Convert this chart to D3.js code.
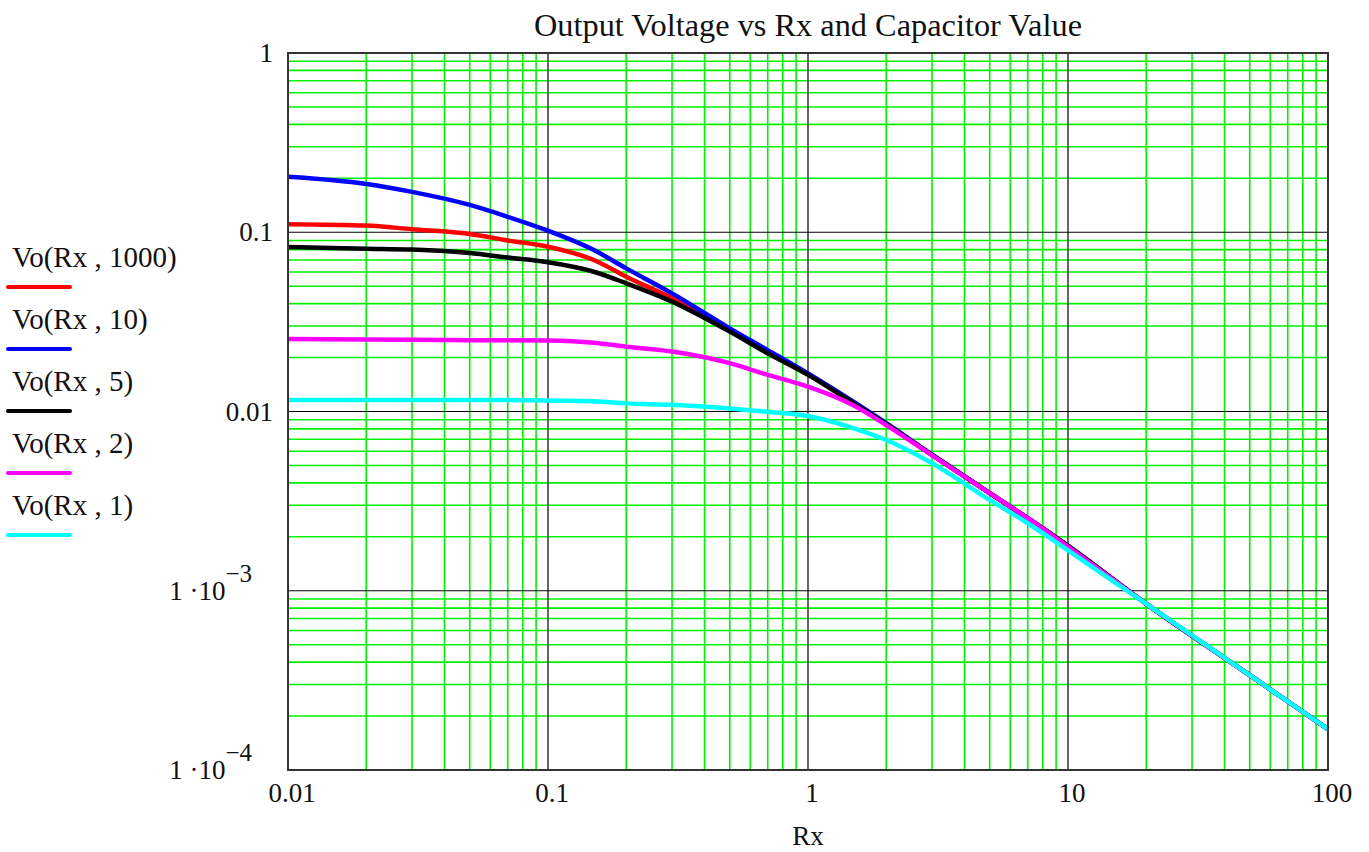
<!DOCTYPE html>
<html>
<head>
<meta charset="utf-8">
<title>Output Voltage vs Rx and Capacitor Value</title>
<script src="https://d3js.org/d3.v7.min.js"></script>
<style>
  body { margin: 0; background: #fff; }
  svg text { font-family: "Liberation Serif", "Times New Roman", serif; fill: #111; }
</style>
</head>
<body>
<svg id="chart" width="1369" height="852"></svg>
<script>
// Rx sample points (log axis)
var rx = [0.01, 0.02, 0.03, 0.05, 0.07, 0.1, 0.15, 0.2, 0.3, 0.5, 0.7, 1, 1.5, 2, 3, 5, 7, 10, 20, 50, 100];

// Vo(Rx, C)
var vo1000 = [0.111, 0.109, 0.104, 0.0978, 0.0900, 0.0830, 0.0700, 0.0565, 0.0428, 0.0283, 0.0213, 0.0161, 0.0111, 0.0085, 0.00572, 0.0035, 0.00254, 0.00178, 0.000845, 0.000338, 0.000169];
var vo10   = [0.204, 0.186, 0.168, 0.142, 0.122, 0.102, 0.0796, 0.0629, 0.0456, 0.0291, 0.0220, 0.0163, 0.0113, 0.0086, 0.00575, 0.0035, 0.00254, 0.00178, 0.000845, 0.000338, 0.000169];
var vo5    = [0.0828, 0.0810, 0.0800, 0.0765, 0.0722, 0.0680, 0.0602, 0.0519, 0.0410, 0.0279, 0.0211, 0.0160, 0.0111, 0.0085, 0.00572, 0.0035, 0.00254, 0.00178, 0.000845, 0.000338, 0.000169];
var vo2    = [0.0254, 0.0252, 0.0251, 0.0250, 0.0250, 0.0249, 0.0242, 0.0230, 0.0216, 0.0186, 0.0160, 0.01375, 0.0108, 0.0084, 0.00570, 0.0035, 0.00254, 0.00176, 0.000845, 0.000338, 0.000169];
var vo1    = [0.0116, 0.0116, 0.0116, 0.0116, 0.0116, 0.0115, 0.0114, 0.0111, 0.0109, 0.0104, 0.00997, 0.00944, 0.00806, 0.00693, 0.00514, 0.00321, 0.00238, 0.00168, 0.000845, 0.000338, 0.000169];

var seriesNames = ["Vo(Rx , 1000)", "Vo(Rx , 10)", "Vo(Rx , 5)", "Vo(Rx , 2)", "Vo(Rx , 1)"];
var seriesValues = [vo1000, vo10, vo5, vo2, vo1];
var seriesColors = ["#ff0000", "#0000ff", "#000000", "#ff00ff", "#00ffff"];

var xTicks = [0.01, 0.1, 1, 10, 100];
var xTickLabels = ["0.01", "0.1", "1", "10", "100"];
var yTicks = [1, 0.1, 0.01, 0.001, 0.0001];
var yTickLabels = ["1", "0.1", "0.01", "1 ·10|−3", "1 ·10|−4"];

var title = "Output Voltage vs Rx and Capacitor Value";
var xTitle = "Rx";

var svg = d3.select("#chart");

var x = d3.scaleLog().domain([0.01, 100]).range([288, 1328]);
var y = d3.scaleLog().domain([0.0001, 1]).range([770, 53]);

function isDecade(v) {
  return Math.abs(Math.log10(v) - Math.round(Math.log10(v))) < 1e-9;
}

// minor grid (green) then decade grid (black)
var xGrid = x.ticks().filter(function (d) { return d > 0.01 && d < 100; });
var yGrid = y.ticks().filter(function (d) { return d > 0.0001 && d < 1; });

var grid = svg.append("g");
grid.selectAll("line.xminor")
  .data(xGrid.filter(function (d) { return !isDecade(d); }))
  .enter().append("line")
  .attr("x1", function (d) { return x(d); }).attr("x2", function (d) { return x(d); })
  .attr("y1", y(1)).attr("y2", y(0.0001))
  .attr("stroke", "#00f000").attr("stroke-width", 1.6);
grid.selectAll("line.yminor")
  .data(yGrid.filter(function (d) { return !isDecade(d); }))
  .enter().append("line")
  .attr("y1", function (d) { return y(d); }).attr("y2", function (d) { return y(d); })
  .attr("x1", x(0.01)).attr("x2", x(100))
  .attr("stroke", "#00f000").attr("stroke-width", 1.6);
grid.selectAll("line.xmajor")
  .data(xGrid.filter(isDecade))
  .enter().append("line")
  .attr("x1", function (d) { return x(d); }).attr("x2", function (d) { return x(d); })
  .attr("y1", y(1)).attr("y2", y(0.0001))
  .attr("stroke", "#000").attr("stroke-width", 1.2);
grid.selectAll("line.ymajor")
  .data(yGrid.filter(isDecade))
  .enter().append("line")
  .attr("y1", function (d) { return y(d); }).attr("y2", function (d) { return y(d); })
  .attr("x1", x(0.01)).attr("x2", x(100))
  .attr("stroke", "#000").attr("stroke-width", 1.2);

// curves
var line = d3.line()
  .x(function (d) { return x(d[0]); })
  .y(function (d) { return y(d[1]); })
  .curve(d3.curveMonotoneX);

seriesValues.forEach(function (vals, i) {
  svg.append("path")
    .datum(rx.map(function (r, j) { return [r, vals[j]]; }))
    .attr("fill", "none")
    .attr("stroke", seriesColors[i])
    .attr("stroke-width", 4.5)
    .attr("d", line);
});

// frame
svg.append("rect")
  .attr("x", x(0.01)).attr("y", y(1))
  .attr("width", x(100) - x(0.01)).attr("height", y(0.0001) - y(1))
  .attr("fill", "none").attr("stroke", "#333").attr("stroke-width", 2);

// x tick labels
svg.selectAll("text.xt")
  .data(xTicks)
  .enter().append("text")
  .attr("x", function (d) { return x(d) + 4; })
  .attr("y", 802)
  .attr("text-anchor", "middle")
  .attr("font-size", 27)
  .text(function (d, i) { return xTickLabels[i]; });

// y tick labels
yTicks.forEach(function (d, i) {
  var parts = yTickLabels[i].split("|");
  var t = svg.append("text")
    .attr("y", y(d) + 9)
    .attr("text-anchor", "end")
    .attr("font-size", 27);
  if (parts.length == 1) {
    t.attr("x", 273).text(parts[0]);
  } else {
    t.attr("x", 252).attr("xml:space", "preserve");
    t.append("tspan").text(parts[0]);
    t.append("tspan").attr("dy", -18).attr("font-size", 25).text(parts[1]);
  }
});

// titles
svg.append("text")
  .attr("x", (x(0.01) + x(100)) / 2)
  .attr("y", 36)
  .attr("text-anchor", "middle")
  .attr("font-size", 31)
  .attr("textLength", 548)
  .attr("lengthAdjust", "spacingAndGlyphs")
  .text(title);

svg.append("text")
  .attr("x", (x(0.01) + x(100)) / 2)
  .attr("y", 845)
  .attr("text-anchor", "middle")
  .attr("font-size", 27)
  .text(xTitle);

// legend
var legend = svg.append("g");
seriesNames.forEach(function (name, i) {
  legend.append("text")
    .attr("x", 12)
    .attr("y", 267 + i * 62)
    .attr("font-size", 29)
    .text(name);
  legend.append("line")
    .attr("x1", 8).attr("x2", 70)
    .attr("y1", 287 + i * 62).attr("y2", 287 + i * 62)
    .attr("stroke", seriesColors[i])
    .attr("stroke-width", 4)
    .attr("stroke-linecap", "round");
});
</script>
</body>
</html>
